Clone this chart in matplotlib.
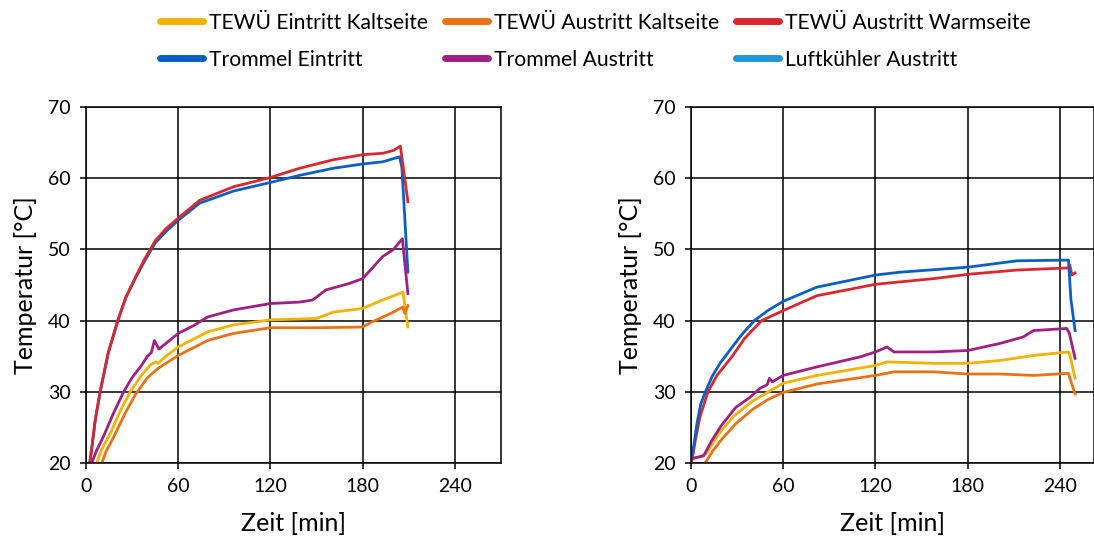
"""Temperaturverlauf zweier Trocknungsversuche."""

import matplotlib
matplotlib.use("Agg")
import matplotlib.pyplot as plt
from matplotlib.lines import Line2D

plt.rcParams["font.family"] = ["Lato", "DejaVu Sans"]

# --- linker Versuch -------------------------------------------------------
l_warm_t = [2.6, 4, 6, 9.2, 14.5, 20.7, 26, 32, 38, 45, 52, 60, 74, 96, 120, 139, 161, 180, 193, 200, 204.5, 209.4]
l_warm_T = [20, 22.5, 26, 30, 35.5, 40, 43.3, 46.0, 48.6, 51.2, 52.9, 54.4, 56.9, 58.8, 60.1, 61.4, 62.6, 63.3, 63.5, 63.9, 64.5, 56.7]

l_tr_ein_t = [2.3, 4, 6, 9.2, 14.5, 20.7, 26, 32, 38, 45, 52, 60, 74, 96, 120, 139, 161, 180, 193, 204, 205.5, 209.4]
l_tr_ein_T = [20, 22.5, 26, 30, 35.5, 40, 43.3, 45.9, 48.3, 50.9, 52.5, 54.1, 56.5, 58.2, 59.4, 60.4, 61.4, 62.0, 62.3, 63.0, 61.5, 46.8]

l_tr_aus_t = [3.7, 7, 11.3, 17.9, 24.5, 30, 35.4, 40, 42.5, 44.5, 47.4, 52, 60, 70, 79, 96, 120, 139, 147.5, 156,
              171, 180, 193, 200, 205.8, 209.4]
l_tr_aus_T = [20, 21.8, 23.7, 27.0, 30.0, 32.0, 33.5, 35.0, 35.5, 37.2, 36.0, 36.8, 38.2, 39.3, 40.5, 41.5, 42.4, 42.6,
              42.9, 44.3, 45.2, 45.9, 49.0, 50.0, 51.5, 43.8]

l_ein_k_t = [7, 10, 15.7, 22, 28.8, 36, 42, 45.2, 47, 52, 60, 79, 96, 120, 150, 161, 180, 193, 206.2, 209.4]
l_ein_k_T = [20, 21.8, 24.1, 27.2, 30.0, 32.3, 33.8, 34.2, 34.0, 35.0, 36.3, 38.4, 39.4, 40.1, 40.3, 41.2, 41.7, 42.9, 44.0, 39.1]

l_aus_k_t = [10.3, 13, 17.9, 25, 32.1, 40, 47, 52, 60, 79, 96, 120, 150, 180, 186, 200, 206, 207.5, 209.4]
l_aus_k_T = [20, 21.6, 23.6, 26.8, 29.6, 32.0, 33.3, 34.0, 35.1, 37.2, 38.2, 39.0, 39.0, 39.1, 39.8, 41.2, 41.9, 41.0, 42.1]

# --- rechter Versuch ------------------------------------------------------
r_tr_ein_t = [0, 2, 4, 6.5, 9.5, 14, 19, 27, 33, 41.3, 50, 60, 82, 120, 136, 180, 212, 245.4, 247, 249.7]
r_tr_ein_T = [20.4, 22.5, 25.5, 28.3, 30.0, 32.2, 34.0, 36.3, 38.0, 40.0, 41.4, 42.7, 44.7, 46.4, 46.8, 47.5, 48.4, 48.5, 43.0, 38.6]

r_warm_t = [0.5, 3, 6, 11.2, 17, 27, 35, 46, 60, 82, 120, 158, 180, 212, 245.4, 246.3, 247.6, 249.7]
r_warm_T = [20, 23.2, 26.5, 30.0, 32.3, 35.0, 37.5, 40.0, 41.4, 43.5, 45.1, 45.9, 46.5, 47.1, 47.4, 47.8, 46.4, 46.7]

r_tr_aus_t = [0, 4, 8.3, 13.8, 20, 29.2, 38.9, 45, 49.7, 51.1, 53, 60, 82, 110, 120, 127.6, 132, 158, 180, 201,
              216, 222.7, 244.3, 246, 249.7]
r_tr_aus_T = [20.6, 20.8, 21.0, 23.2, 25.3, 27.8, 29.3, 30.5, 31.0, 31.9, 31.4, 32.3, 33.5, 34.9, 35.6, 36.3, 35.6,
              35.6, 35.8, 36.8, 37.7, 38.6, 38.9, 38.2, 34.7]

r_ein_k_t = [0, 5, 10, 18.2, 28, 40.2, 60, 82, 120, 127.6, 158, 180, 201, 222.7, 245.4, 246.5, 249.7]
r_ein_k_T = [20.5, 20.8, 21.3, 24.1, 26.6, 28.7, 31.2, 32.3, 33.7, 34.2, 34.0, 34.0, 34.4, 35.1, 35.6, 35.0, 31.9]

r_aus_k_t = [9.4, 14, 20, 29.2, 40, 50, 60, 82, 120, 132, 158, 180, 201, 222.7, 245.4, 246.5, 249.7]
r_aus_k_T = [20, 21.6, 23.3, 25.5, 27.5, 28.9, 29.9, 31.1, 32.3, 32.8, 32.8, 32.5, 32.5, 32.3, 32.6, 31.8, 29.7]

x_ticks = [0, 60, 120, 180, 240]
y_ticks = [20, 30, 40, 50, 60, 70]

C_EIN_K = "#f2b200"
C_AUS_K = "#ea7216"
C_WARM = "#d7282f"
C_TR_EIN = "#0b5fc3"
C_TR_AUS = "#a01f82"
C_LUFT = "#1f94d8"


def style_axes(ax, xmax):
    ax.set_xlim(0, xmax)
    ax.set_ylim(20, 70)
    ax.set_xticks(x_ticks)
    ax.set_yticks(y_ticks)
    ax.grid(True, color="black", linewidth=1.1)
    ax.set_axisbelow(True)
    for s in ax.spines.values():
        s.set_color("black")
        s.set_linewidth(1.1)
    ax.tick_params(direction="out", length=4, width=1.1, labelsize=14, pad=7)
    ax.set_xlabel("Zeit [min]", fontsize=18, labelpad=12)
    ax.set_ylabel("Temperatur [°C]", fontsize=18, labelpad=8)


fig = plt.figure(figsize=(10.94, 5.51), dpi=100)
ax1 = fig.add_axes([0.0786, 0.1597, 0.3794, 0.6461])
ax2 = fig.add_axes([0.6314, 0.1597, 0.3686, 0.6461])

lw = 2.0
ax1.plot(l_ein_k_t, l_ein_k_T, color=C_EIN_K, lw=lw)
ax1.plot(l_aus_k_t, l_aus_k_T, color=C_AUS_K, lw=lw)
ax1.plot(l_tr_ein_t, l_tr_ein_T, color=C_TR_EIN, lw=lw)
ax1.plot(l_warm_t, l_warm_T, color=C_WARM, lw=lw)
ax1.plot(l_tr_aus_t, l_tr_aus_T, color=C_TR_AUS, lw=lw)
style_axes(ax1, 270)

ax2.plot(r_ein_k_t, r_ein_k_T, color=C_EIN_K, lw=lw)
ax2.plot(r_aus_k_t, r_aus_k_T, color=C_AUS_K, lw=lw)
ax2.plot(r_warm_t, r_warm_T, color=C_WARM, lw=lw)
ax2.plot(r_tr_ein_t, r_tr_ein_T, color=C_TR_EIN, lw=lw)
ax2.plot(r_tr_aus_t, r_tr_aus_T, color=C_TR_AUS, lw=lw)
style_axes(ax2, 262)

labels = ["TEWÜ Eintritt Kaltseite", "Trommel Eintritt",
          "TEWÜ Austritt Kaltseite", "Trommel Austritt",
          "TEWÜ Austritt Warmseite", "Luftkühler Austritt"]
colors = [C_EIN_K, C_TR_EIN, C_AUS_K, C_TR_AUS, C_WARM, C_LUFT]
handles = [Line2D([], [], color=c, lw=5, solid_capstyle="round") for c in colors]
fig.legend(handles, labels, ncol=3, frameon=False, loc="upper left",
           bbox_to_anchor=(0.135, 1.0), borderaxespad=0.2, fontsize=15.2,
           handlelength=2.0, handletextpad=0.3, columnspacing=0.82, labelspacing=0.8)

fig.savefig("out.png", dpi=100)
